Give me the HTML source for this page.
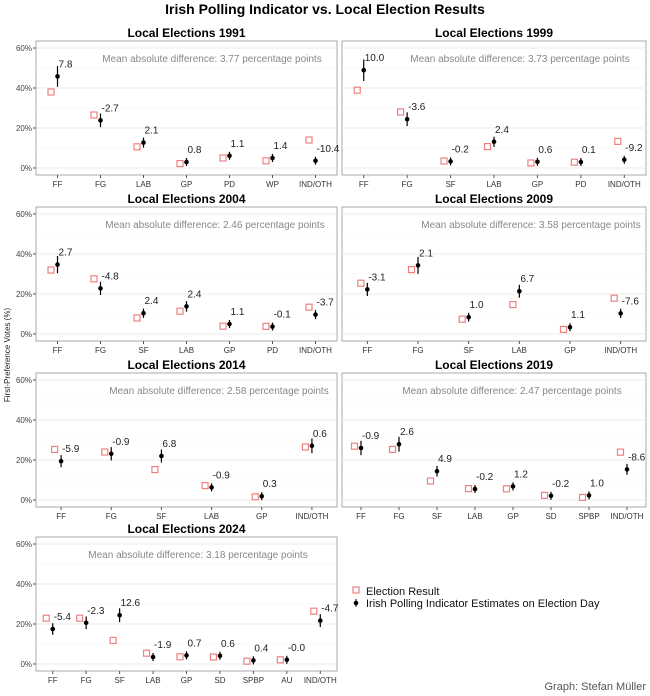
<!DOCTYPE html>
<html><head><meta charset="utf-8"><style>
body{margin:0;background:#fff;}
svg{display:block;font-family:"Liberation Sans",Arial,sans-serif;}
</style></head><body>
<svg id="s" width="650" height="696" xmlns="http://www.w3.org/2000/svg"></svg>
<script>
const P=[
{t:"Local Elections 1991",L:36,W:301,top:48,m:"3.77",mc:212,c:["FF","FG","LAB","GP","PD","WP","IND/OTH"],r:[38,26.5,10.6,2.2,5,3.6,14],d:[7.8,-2.7,2.1,0.8,1.1,1.4,-10.4]},
{t:"Local Elections 1999",L:342,W:304,top:48,m:"3.73",mc:520,c:["FF","FG","SF","LAB","GP","PD","IND/OTH"],r:[38.9,28,3.5,10.7,2.5,2.9,13.3],d:[10.0,-3.6,-0.2,2.4,0.6,0.1,-9.2]},
{t:"Local Elections 2004",L:36,W:301,top:214,m:"2.46",mc:215,c:["FF","FG","SF","LAB","GP","PD","IND/OTH"],r:[32,27.6,8,11.4,3.9,3.8,13.4],d:[2.7,-4.8,2.4,2.4,1.1,-0.1,-3.7]},
{t:"Local Elections 2009",L:342,W:304,top:214,m:"3.58",mc:531,c:["FF","FG","SF","LAB","GP","IND/OTH"],r:[25.4,32.2,7.4,14.7,2.3,17.9],d:[-3.1,2.1,1.0,6.7,1.1,-7.6]},
{t:"Local Elections 2014",L:36,W:301,top:380,m:"2.58",mc:219,c:["FF","FG","SF","LAB","GP","IND/OTH"],r:[25.3,24,15.2,7.2,1.6,26.5],d:[-5.9,-0.9,6.8,-0.9,0.3,0.6]},
{t:"Local Elections 2019",L:342,W:304,top:380,m:"2.47",mc:512,c:["FF","FG","SF","LAB","GP","SD","SPBP","IND/OTH"],r:[26.9,25.3,9.5,5.7,5.6,2.3,1.3,23.9],d:[-0.9,2.6,4.9,-0.2,1.2,-0.2,1.0,-8.6]},
{t:"Local Elections 2024",L:36,W:301,top:544,m:"3.18",mc:198,c:["FF","FG","SF","LAB","GP","SD","SPBP","AU","IND/OTH"],r:[22.9,22.9,11.8,5.4,3.6,3.5,1.4,2.1,26.4],d:[-5.4,-2.3,12.6,-1.9,0.7,0.6,0.4,-0.0,-4.7],z:7}
];
let h='<text x="325" y="14" text-anchor="middle" font-size="14" font-weight="bold" fill="#000">Irish Polling Indicator vs. Local Election Results</text>';
h+='<text transform="translate(10,355) rotate(-90)" text-anchor="middle" font-size="8" fill="#222">First-Preference Votes (%)</text>';
for(const p of P){
 const W=p.W,L=p.L,T=p.top,y0=T+120,bt=T-7,bb=T+127,left=L<100;
 h+=`<text x="${L+W/2}" y="${T-11}" text-anchor="middle" font-size="12" font-weight="bold">${p.t}</text>`;
 h+=`<rect x="${L}" y="${bt}" width="${W}" height="${bb-bt}" fill="#fff" stroke="#aaa" stroke-width="1"/>`;
 for(let v=0;v<=60;v+=10){const y=y0-2*v;h+=`<line x1="${L}" x2="${L+W}" y1="${y}" y2="${y}" stroke="${v%20?'#f6f6f6':'#ebebeb'}" stroke-width="${v%20?0.6:1}"/>`;
  if(v%20==0&&left){h+=`<line x1="${L-3}" x2="${L}" y1="${y}" y2="${y}" stroke="#555"/><text x="${L-4}" y="${y+3}" text-anchor="end" font-size="8" fill="#444">${v}%</text>`;}}
 h+=`<text x="${p.mc}" y="${T+14}" text-anchor="middle" font-size="10" fill="#888">Mean absolute difference: ${p.m} percentage points</text>`;
 const n=p.c.length,st=W/n;
 p.c.forEach((c,i)=>{const x=L+(i+0.5)*st;
  h+=`<line x1="${x}" x2="${x}" y1="${bb}" y2="${bb+3}" stroke="#555"/><text x="${x}" y="${bb+12}" text-anchor="middle" font-size="8" fill="#333">${c}</text>`;
  const r=p.r[i],e=+(r+p.d[i]).toFixed(1);
  h+=`<rect x="${x-9.5}" y="${y0-2*r-3}" width="6" height="6" fill="none" stroke="#f08080" stroke-width="1.2"/>`;
  const ex=x,ey=y0-2*e,eb=Math.max(1,e*0.08+0.5);
  h+=`<line x1="${ex}" x2="${ex}" y1="${ey-2*eb-2}" y2="${ey+2*eb+2}" stroke="#000" stroke-width="1.2"/><circle cx="${ex}" cy="${ey}" r="2.3" fill="#000"/>`;
  const lab=(p.z===i)?'-0.0':p.d[i].toFixed(1);
  h+=`<text x="${ex+1}" y="${ey-9}" font-size="10" fill="#222">${lab}</text>`;
 });
}
h+='<rect x="353" y="587" width="6" height="6" fill="none" stroke="#f08080" stroke-width="1.2"/><text x="366" y="595" font-size="11" fill="#111">Election Result</text>';
h+='<circle cx="356" cy="603" r="2.3" fill="#000"/><line x1="356" x2="356" y1="599" y2="607" stroke="#000"/><text x="366" y="607" font-size="11" fill="#111">Irish Polling Indicator Estimates on Election Day</text>';
h+='<text x="646" y="690" text-anchor="end" font-size="11" fill="#555">Graph: Stefan Müller</text>';
document.getElementById('s').innerHTML=h;
</script>
</body></html>
